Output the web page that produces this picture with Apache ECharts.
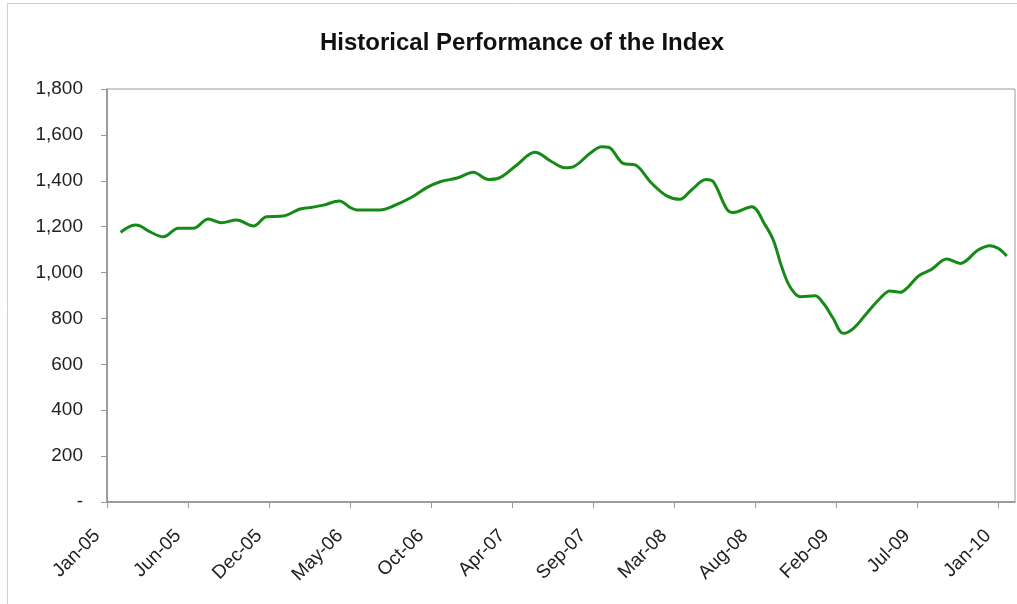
<!DOCTYPE html>
<html>
<head>
<meta charset="utf-8">
<script src="https://cdn.jsdelivr.net/npm/echarts@6/dist/echarts.min.js"></script>
<style>
html,body{margin:0;padding:0;background:#fff;}
#chart{width:1017px;height:604px;}
</style>
</head>
<body>
<div id="chart"></div>
<script>
const dates = [
  '2005-01-29','2005-02-28','2005-03-10','2005-03-30','2005-04-27','2005-05-28','2005-06-28','2005-07-29',
  '2005-08-25','2005-09-25','2005-10-30','2005-11-26','2005-12-30','2006-02-03','2006-02-23','2006-03-23',
  '2006-04-25','2006-05-17','2006-05-31','2006-07-18','2006-08-14','2006-09-21','2006-10-22','2006-11-19',
  '2006-12-26','2007-01-26','2007-02-26','2007-03-19','2007-04-26','2007-06-02','2007-07-07','2007-08-03',
  '2007-08-20','2007-09-24','2007-10-18','2007-11-01','2007-12-01','2007-12-26','2008-01-29','2008-02-29',
  '2008-03-27','2008-04-20','2008-05-20','2008-06-04','2008-07-02','2008-07-15','2008-08-22','2008-09-19',
  '2008-10-06','2008-10-23','2008-11-09','2008-11-30','2008-12-31','2009-01-17','2009-02-06','2009-02-27',
  '2009-03-20','2009-04-16','2009-05-14','2009-06-03','2009-06-24','2009-07-11','2009-08-01','2009-08-28',
  '2009-09-28','2009-10-26','2009-12-02','2009-12-26','2010-01-13','2010-01-30'
];
const values = [
  1175,1207,1203,1178,1156,1193,1193,1233,
  1217,1229,1203,1243,1246,1277,1283,1294,
  1312,1284,1273,1273,1290,1328,1370,1396,
  1413,1437,1406,1411,1469,1524,1483,1457,
  1461,1520,1548,1546,1476,1469,1389,1334,
  1319,1360,1406,1396,1276,1262,1287,1207,
  1140,1025,938,895,899,866,801,735,
  757,822,888,920,914,938,985,1014,
  1059,1040,1098,1117,1105,1072
];
const yTicks = [0,200,400,600,800,1000,1200,1400,1600,1800];
const monthNames = ['Jan','Feb','Mar','Apr','May','Jun','Jul','Aug','Sep','Oct','Nov','Dec'];
const startDate = '2005-01-01';
const tickStepDays = 167;
const axisEndDays = 1872;

const DAY = 86400000;
const t0 = Date.parse(startDate + 'T00:00:00Z');
const toDays = s => Math.round((Date.parse(s + 'T00:00:00Z') - t0) / DAY);
const seriesData = dates.map((d, i) => [toDays(d), values[i]]);

const chart = echarts.init(document.getElementById('chart'), null, {renderer: 'canvas'});
const FONT = '"Liberation Sans", Arial, sans-serif';
chart.setOption({
  animation: false,
  backgroundColor: '#fff',
  graphic: [{
    type: 'rect', silent: true,
    shape: {x: 7.5, y: 3.5, width: 1030, height: 620},
    style: {fill: 'none', stroke: '#cfcfcf', lineWidth: 1}
  }],
  title: {
    text: 'Historical Performance of the Index',
    left: 315, top: 26,
    textStyle: {fontFamily: FONT, fontSize: 24, fontWeight: 'bold', color: '#111'}
  },
  grid: {
    left: 107, right: 2, top: 89, bottom: 102,
    show: true, borderColor: '#9a9a9a', borderWidth: 1, backgroundColor: '#fff'
  },
  xAxis: {
    type: 'value', min: 0, max: axisEndDays, interval: tickStepDays,
    axisLine: {show: true, lineStyle: {color: '#8c8c8c', width: 1.5}},
    axisTick: {show: true, length: 6, lineStyle: {color: '#9a9a9a'}},
    splitLine: {show: false},
    axisLabel: {
      rotate: 45, margin: 21, padding: [0, 14, 0, 0], fontFamily: FONT, fontSize: 19, color: '#222',
      showMaxLabel: false,
      formatter: function (d) {
        if (d % tickStepDays !== 0) return '';
        const dt = new Date(t0 + d * DAY);
        return monthNames[dt.getUTCMonth()] + '-' + String(dt.getUTCFullYear() % 100).padStart(2, '0');
      }
    }
  },
  yAxis: {
    type: 'value', min: yTicks[0], max: yTicks[yTicks.length - 1], interval: yTicks[1] - yTicks[0],
    axisLine: {show: true, lineStyle: {color: '#8c8c8c', width: 1.5}},
    axisTick: {show: true, length: 6, lineStyle: {color: '#9a9a9a'}},
    splitLine: {show: false},
    axisLabel: {
      margin: 24, fontFamily: FONT, fontSize: 19, color: '#222',
      formatter: v => v === 0 ? '-' : v.toLocaleString('en-US')
    }
  },
  series: [{
    type: 'line', data: seriesData, smooth: 0.35, showSymbol: false,
    lineStyle: {color: '#168a16', width: 3}
  }]
});
</script>
</body>
</html>
